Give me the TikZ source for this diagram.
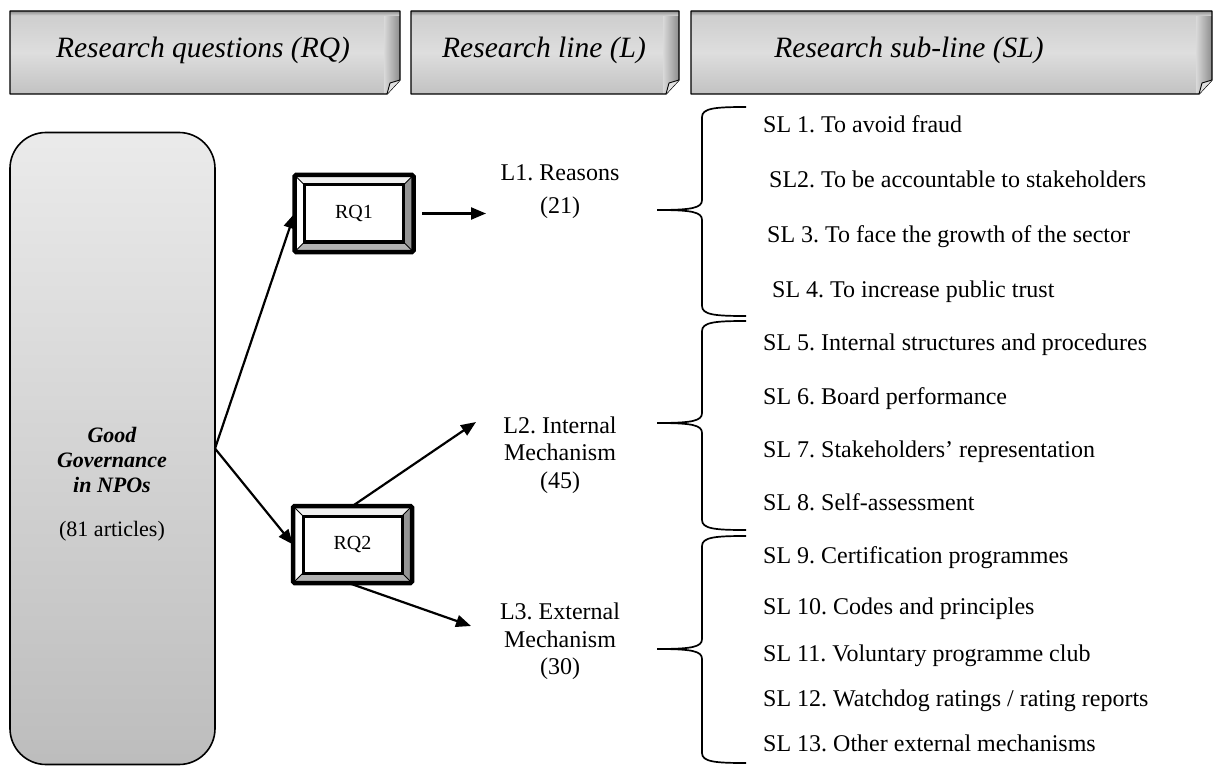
\documentclass[tikz,border=0pt]{standalone}
\usepackage{fontspec}
\setmainfont{Liberation Serif}
\frenchspacing
\usetikzlibrary{arrows.meta,calc}
\tikzset{
  hdrtxt/.style={font=\fontsize{29.5}{34}\selectfont\itshape, inner sep=0pt},
  arr/.style={line width=2.2pt, -{Triangle[length=15pt,width=12pt]}},
  sltxt/.style={anchor=west, inner sep=0pt, text height=17pt, text depth=5pt, font=\fontsize{24}{28}\selectfont},
  ltxt/.style={inner sep=0pt, text height=17pt, text depth=5pt, font=\fontsize{24}{28}\selectfont},
  ggtxt/.style={inner sep=0pt, text height=15pt, text depth=5pt, font=\fontsize{22}{25}\selectfont},
  rqbox/.style={minimum width=119pt, minimum height=77pt, inner sep=0pt, outer sep=0pt},
  rqtxt/.style={inner sep=0pt, font=\fontsize{20}{24}\selectfont},
  bracestyle/.style={line width=1.7pt},
  lboxstyle/.style={draw, line width=1.6pt, rounded corners=36pt, top color=black!8, bottom color=black!26,
     minimum width=205pt, minimum height=632pt, inner sep=0pt, outer sep=0pt},
}
\newcommand\hdrbox[5]{%
  \shade[top color=black!20, bottom color=black!24, middle color=black!13]
    (#1,11) -- (#2,11) -- (#2,80) -- ({#2-13},94) -- (#1,94) -- cycle;
  \begin{scope}
    \clip (#1,11) -- (#2,11) -- (#2,80) -- ({#2-13},94) -- (#1,94) -- cycle;
    \shade[left color=black!15, right color=black!45] ({#2-16},11) rectangle (#2,94);
    \shade[top color=black!45, bottom color=black!15] (#1,11) rectangle (#2,16);
  \end{scope}
  \draw[line width=1.3pt, line join=round] (#1,11) -- (#2,11) -- (#2,80) -- ({#2-13},94) -- (#1,94) -- cycle;
  \filldraw[fill=black!12, line width=0.9pt, line join=round] (#2,80) -- ({#2-10},83) -- ({#2-13},94);
  \node[hdrtxt] (#3) at (#5,50) {#4};
}
\newcommand\bevelbox[1]{%
  \fill[white] (#1.north west) rectangle (#1.south east);
  \fill[black!6] (#1.north west) -- (#1.north east) -- ($(#1.north east)+(-10,10)$) -- ($(#1.north west)+(10,10)$) -- cycle;
  \fill[white] (#1.north west) -- ($(#1.north west)+(10,10)$) -- ($(#1.south west)+(10,-10)$) -- (#1.south west) -- cycle;
  \fill[black!42] (#1.north east) -- ($(#1.north east)+(-10,10)$) -- ($(#1.south east)+(-10,-10)$) -- (#1.south east) -- cycle;
  \fill[black!30] (#1.south west) -- ($(#1.south west)+(10,-10)$) -- ($(#1.south east)+(-10,-10)$) -- (#1.south east) -- cycle;
  \draw[line width=1pt] (#1.north west) -- ($(#1.north west)+(10,10)$);
  \draw[line width=1pt] (#1.north east) -- ($(#1.north east)+(-10,10)$);
  \draw[line width=1pt] (#1.south west) -- ($(#1.south west)+(10,-10)$);
  \draw[line width=1pt] (#1.south east) -- ($(#1.south east)+(-10,-10)$);
  \draw[line width=3pt] ($(#1.north west)+(10,10)$) rectangle ($(#1.south east)+(-10,-10)$);
  \draw[line width=4.5pt, rounded corners=1.5pt] (#1.north west) rectangle (#1.south east);
}
\newcommand\mybrace[3]{%
  \draw[bracestyle] (746,#1) .. controls (716,#1) and (702,{#1+1}) .. (702,{#1+10})
    -- (702,{#2-10}) .. controls (702,{#2-2}) and (692,#2) .. (657,#2)
    .. controls (692,#2) and (702,{#2+2}) .. (702,{#2+10})
    -- (702,{#3-10}) .. controls (702,{#3-1}) and (716,#3) .. (746,#3);
}
\begin{document}
\begin{tikzpicture}[x=1pt, y=-1pt]
\useasboundingbox (0,0) rectangle (1214,767);
% headers
\hdrbox{10}{400}{h1}{Research questions (RQ)}{203}
\hdrbox{411}{679}{h2}{Research line (L)}{544}
\hdrbox{691}{1212}{h3}{Research sub-line (SL)}{909}
% left box
\node[lboxstyle] (gg) at (112.5,448.5) {};
\node[ggtxt] (gg1) at (112,437) {\bfseries\itshape Good};
\node[ggtxt] (gg2) at (112,462) {\bfseries\itshape Governance};
\node[ggtxt] (gg3) at (112,487) {\bfseries\itshape in NPOs};
\node[ggtxt] (gg4) at (112,531) {(81 articles)};
% RQ boxes
\node[rqbox] (rq1) at (354,213.5) {};
\bevelbox{rq1}
\node[rqtxt] (rq1t) at (rq1.center) {RQ1};
\node[rqbox] (rq2) at (352.5,544.5) {};
\bevelbox{rq2}
\node[rqtxt] (rq2t) at (rq2.center) {RQ2};
% lines
\node[ltxt] (l1a) at (560,175) {L1. Reasons};
\node[ltxt] (l1b) at (560,208) {(21)};
\node[ltxt] (l2a) at (560,427) {L2. Internal};
\node[ltxt] (l2b) at (560,454) {Mechanism};
\node[ltxt] (l2c) at (560,482) {(45)};
\node[ltxt] (l3a) at (560,613) {L3. External};
\node[ltxt] (l3b) at (560,641) {Mechanism};
\node[ltxt] (l3c) at (560,668) {(30)};
% connector ends
\coordinate (rq1out) at (422,213.5);
\coordinate (l1in) at (486,213.5);
\coordinate (l2in) at (476,422);
\coordinate (l3in) at (471,626);
\draw[arr] (gg.east) -- (rq1.west);
\draw[arr] (gg.east) -- (rq2.west);
\draw[arr] (rq1out) -- (l1in);
\draw[arr, shorten <=2pt] (rq2.north) -- (l2in);
\draw[arr, shorten <=2pt] ($(rq2.south)+(-4,0)$) -- (l3in);
% braces
\mybrace{107}{210}{316}
\mybrace{321}{423}{530}
\mybrace{536}{649}{763}
% sub-lines
\node[sltxt] (sl1) at (763,127) {SL 1. To avoid fraud};
\node[sltxt] (sl2) at (769,182) {SL2. To be accountable to stakeholders};
\node[sltxt] (sl3) at (767,236) {SL 3. To face the growth of the sector};
\node[sltxt] (sl4) at (772,291) {SL 4. To increase public trust};
\node[sltxt] (sl5) at (763,344) {SL 5. Internal structures and procedures};
\node[sltxt] (sl6) at (763,398) {SL 6. Board performance};
\node[sltxt] (sl7) at (763,451) {SL 7. Stakeholders’ representation};
\node[sltxt] (sl8) at (763,504) {SL 8. Self-assessment};
\node[sltxt] (sl9) at (763,557) {SL 9. Certification programmes};
\node[sltxt] (sl10) at (763,608) {SL 10. Codes and principles};
\node[sltxt] (sl11) at (763,655) {SL 11. Voluntary programme club};
\node[sltxt] (sl12) at (763,700) {SL 12. Watchdog ratings / rating reports};
\node[sltxt] (sl13) at (763,745) {SL 13. Other external mechanisms};
\end{tikzpicture}
\end{document}
